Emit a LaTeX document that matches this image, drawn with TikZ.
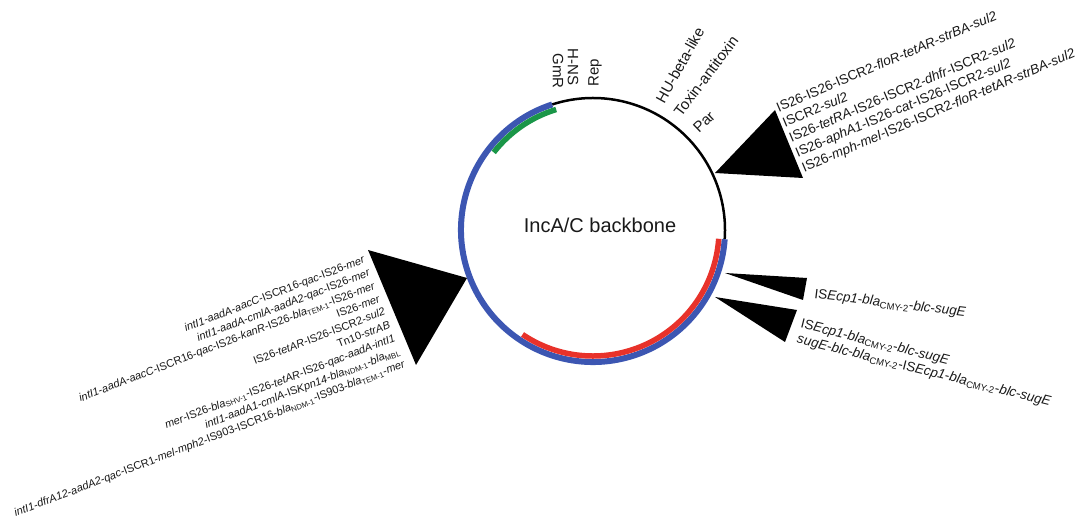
\documentclass[tikz,border=0pt]{standalone}
\usepackage{fontspec}
\setmainfont{Liberation Sans}
\newcommand\gn[1]{\textit{#1}}
\newcommand\blasub[1]{\textit{bla}\textsubscript{#1}}
\definecolor{plblue}{RGB}{60,86,178}
\definecolor{plred}{RGB}{232,50,42}
\definecolor{plgreen}{RGB}{26,150,72}
\definecolor{txt}{RGB}{25,25,25}
\tikzset{
  genes/.style={inner sep=0pt, text=txt},
  toplabel/.style={inner sep=0pt, text=txt, font=\fontsize{15}{18}\selectfont},
  wedge/.style={fill=black, draw=none},
  arcseg/.style={line width=6pt, line cap=butt},
}
\begin{document}
\begin{tikzpicture}[x=1pt,y=1pt]
\useasboundingbox (0,0) rectangle (1081,532);
\coordinate (c) at (593,302);
% backbone circle
\draw[line width=2.5pt] (c) ++(-4:132) arc[start angle=-4, end angle=108, radius=132];
\draw[arcseg, plblue] (c) ++(108:132) arc[start angle=108, end angle=356, radius=132];
\draw[arcseg, plgreen, line width=5.5pt] (c) ++(107:126) arc[start angle=107, end angle=142, radius=126];
\draw[arcseg, plred, line width=5.5pt] (c) ++(236:126) arc[start angle=236, end angle=356, radius=126];
\node[inner sep=0pt, text=txt, font=\fontsize{20}{24}\selectfont] (title) at (600,307) {IncA/C backbone};

% top labels
\node[toplabel, rotate=-90] (hns) at (573,465) {H-NS};
\node[toplabel, rotate=-90] (gmr) at (558,461) {GmR};
\node[toplabel, rotate=90] (rep) at (595,459) {Rep};
\node[toplabel, rotate=61] (hu) at (680,467) {HU-beta-like};
\node[toplabel, rotate=53] (tox) at (706,456) {Toxin-antitoxin};
\node[toplabel, rotate=44] (par) at (704,410) {Par};

% wedges
\fill[wedge] (715,359) -- (775,422) -- (803,354) -- cycle;
\fill[wedge] (467,254) -- (368,282) -- (416,167) -- cycle;
\fill[wedge] (725,259) -- (807,254) -- (803,232) -- cycle;
\fill[wedge] (715,235) -- (797,222) -- (785,190) -- cycle;

% upper right block
\node[genes, rotate=23, anchor=west, align=left, font=\fontsize{13.5}{16.3}\selectfont] (ur) at (790,393) {%
IS26-IS26-ISCR2-\gn{floR}-\gn{tetAR}-\gn{strBA}-\gn{sul2}\\
ISCR2-\gn{sul2}\\
IS26-\gn{tetRA}-IS26-ISCR2-\gn{dhfr}-ISCR2-\gn{sul2}\\
IS26-\gn{aphA1}-IS26-\gn{cat}-IS26-ISCR2-\gn{sul2}\\
IS26-\gn{mph}-\gn{mel}-IS26-ISCR2-\gn{floR}-\gn{tetAR}-\gn{strBA}-\gn{sul2}};

% left block
\node[genes, rotate=21, anchor=east, align=right, font=\fontsize{11}{14}\selectfont] (left) at (385,220) {%
\gn{intI1}-\gn{aadA}-\gn{aacC}-ISCR16-\gn{qac}-IS26-\gn{mer}\\
\gn{intI1}-\gn{aadA}-\gn{cmlA}-\gn{aadA2}-\gn{qac}-IS26-\gn{mer}\\
\gn{intI1}-\gn{aadA}-\gn{aacC}-ISCR16-\gn{qac}-IS26-\gn{kanR}-IS26-\blasub{TEM-1}-IS26-\gn{mer}\\
IS26-\gn{mer}\\
IS26-\gn{tetAR}-IS26-ISCR2-\gn{sul2}\\
Tn10-\gn{strAB}\\
\gn{mer}-IS26-\blasub{SHV-1}-IS26-\gn{tetAR}-IS26-\gn{qac}-\gn{aadA}-\gn{intI1}\\
\gn{intI1}-\gn{aadA1}-\gn{cmlA}-IS\gn{Kpn14}-\blasub{NDM-1}-\blasub{MBL}\\
\gn{intI1}-\gn{dfrA12}-\gn{aadA2}-\gn{qac}-ISCR1-\gn{mel}-\gn{mph2}-IS903-ISCR16-\blasub{NDM-1}-IS903-\blasub{TEM-1}-\gn{mer}};

% lower right
\node[genes, rotate=-7, anchor=base west, font=\fontsize{13.5}{16}\selectfont] (lr1) at (814,234) {%
IS\gn{Ecp1}-\blasub{CMY-2}-\gn{blc}-\gn{sugE}};
\node[genes, rotate=-14, anchor=west, align=left, font=\fontsize{13.5}{15.5}\selectfont] (lr2) at (799,200) {%
IS\gn{Ecp1}-\blasub{CMY-2}-\gn{blc}-\gn{sugE}\\
\gn{sugE}-\gn{blc}-\blasub{CMY-2}-IS\gn{Ecp1}-\blasub{CMY-2}-\gn{blc}-\gn{sugE}};
\end{tikzpicture}
\end{document}
